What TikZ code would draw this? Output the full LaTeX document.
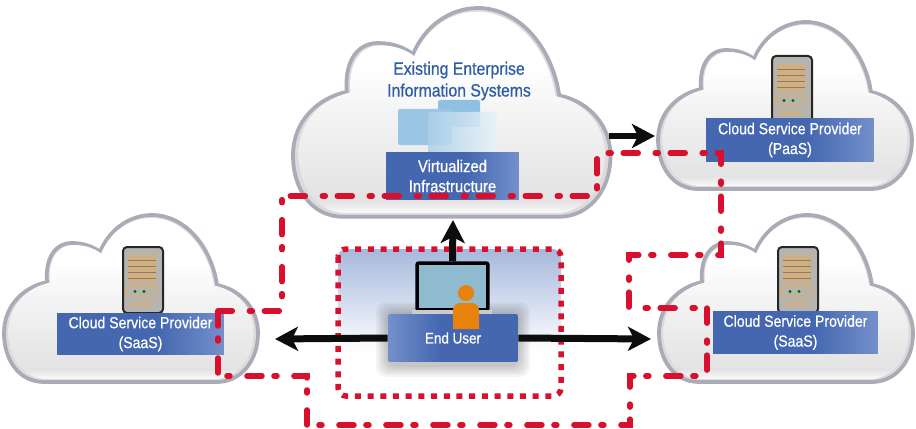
\documentclass[tikz,border=0pt]{standalone}
\usepackage{fontspec}
\setmainfont{Liberation Sans}[FakeStretch=0.88,FakeBold=0.6]
\usepackage{tikz}
\usetikzlibrary{arrows.meta}

\definecolor{rimgray}{HTML}{A9ABB6}
\definecolor{boxblue}{HTML}{4467B0}
\definecolor{boxlight}{HTML}{7490CB}
\definecolor{titleblue}{HTML}{2F5CA3}
\definecolor{linkred}{HTML}{D8102E}
\definecolor{servertan}{HTML}{CFB084}
\definecolor{servergray}{HTML}{B6B4AF}
\definecolor{windowblue}{HTML}{8FC0E0}
\definecolor{screenblue}{HTML}{8FBAD0}
\definecolor{personorange}{HTML}{E8820C}
\definecolor{userblue}{HTML}{A6B8DC}

\pgfdeclareverticalshading{cloudglow}{100bp}{color(0bp)=(white!98!black); color(25bp)=(white!98!black); color(28bp)=(white!89!black); color(48bp)=(white!95!black); color(62bp)=(white); color(100bp)=(white)}
\pgfdeclareverticalshading{userglow}{100bp}{color(0bp)=(white); color(40bp)=(white); color(75bp)=(userblue); color(100bp)=(userblue)}
\pgfdeclarehorizontalshading{boxshade}{100bp}{color(0bp)=(boxblue); color(55bp)=(boxblue); color(75bp)=(boxlight); color(100bp)=(boxlight)}
\pgfdeclarehorizontalshading{usershade}{100bp}{color(0bp)=(boxlight); color(25bp)=(boxlight); color(45bp)=(boxblue); color(100bp)=(boxblue)}

\newcommand{\cloudpath}{(40,167) .. controls (15,167) and (0,145) .. (0,118) .. controls (0,90) and (20,72) .. (43,67) .. controls (41,45) and (50,28) .. (68,28) .. controls (80,28) and (90,32) .. (96,37) .. controls (105,15) and (125,0) .. (148,0) .. controls (180,0) and (207,30) .. (213,70) .. controls (238,75) and (254,95) .. (254,118) .. controls (254,148) and (235,167) .. (213,167) -- cycle}

\tikzset{
  pics/cloudshape/.style={code={
    \draw[rimgray,line width=0.075cm,fill=white!86!black] \cloudpath;
    \shade[shading=cloudglow,scale around={0.965:(127,84)}] \cloudpath;
  }},
  pics/servershape/.style={code={
    \draw[black!85,line width=0.04cm,fill=servergray,rounded corners=0.08cm] (0,0) rectangle (40,66);
    \fill[servertan] (5,8) rectangle (33,36);
    \foreach \s in {13,19,25,31} \fill[servertan!70!black] (5,\s) rectangle (33,\s+0.7);
    \draw[servertan,line width=0.04cm,fill=servergray] (4,40) rectangle (33,49);
    \fill[black!60!green] (12,44.5) circle (1.6);
    \fill[black!60!green] (21,44.5) circle (1.6);
    \fill[servertan] (8,55) rectangle (29,59);
  }},
  bluebox/.style={shade,shading=boxshade,text=white,inner sep=0pt,align=center,font=\fontsize{9.1}{11.3}\selectfont},
  fatarrow/.style={black!95,line width=0.14cm,-{Stealth[length=0.46cm,width=0.48cm,inset=0.12cm]}},
  linkline/.style={linkred,line width=0.11cm,line cap=round,dash pattern=on 0.3cm off 0.24cm on 0.06cm off 0.34cm},
  windowbox/.style={rounded corners=0.04cm},
}

\begin{document}
\begin{tikzpicture}[x=0.02cm,y=-0.02cm]
\useasboundingbox (0,0) rectangle (916,429);

\pic[shift={(4,215)}] (cloudleft) {cloudshape};
\pic[shift={(293,8)},scale=1.25] (cloudtop) {cloudshape};
\pic[shift={(658,22)}] (cloudpaas) {cloudshape};
\pic[shift={(659,215)}] (cloudright) {cloudshape};

\pic[shift={(123,247)}] (serverleft) {servershape};
\pic[shift={(772,56)}] (serverpaas) {servershape};
\pic[shift={(778,247)}] (serverright) {servershape};

\node[bluebox,minimum width=3.34cm,minimum height=0.84cm] (saasleft) at (140.5,334) {Cloud Service Provider\\(SaaS)};
\node[bluebox,minimum width=3.36cm,minimum height=0.88cm] (paas) at (790,140) {Cloud Service Provider\\(PaaS)};
\node[bluebox,minimum width=3.30cm,minimum height=0.86cm] (saasright) at (795.5,332.5) {Cloud Service Provider\\(SaaS)};

\node[text=titleblue,align=center,font=\fontsize{10.2}{12.4}\selectfont] (title) at (459,81) {Existing Enterprise\\Information Systems};

\fill[windowblue,windowbox] (438,100) rectangle (480,127);
\fill[windowblue!90!white,windowbox] (398,109) rectangle (452,145);
\shade[left color=windowblue!75!white,right color=windowblue!20!white,opacity=0.85,windowbox] (428,112) rectangle (497,156);
\node[bluebox,font=\fontsize{9.6}{11.4}\selectfont,minimum width=2.66cm,minimum height=0.96cm] (virtual) at (452.5,176) {Virtualized\\Infrastructure};

\shade[shading=userglow,rounded corners=0.16cm] (338,249) rectangle (561,396);
\foreach \s in {2,4,6,8,10,12} \fill[black,opacity=0.04,rounded corners=0.2cm] (388-\s,314-\s) rectangle (518+\s,365+\s);

\node[inner sep=0pt,minimum width=1.42cm,minimum height=0.94cm,draw=black,line width=0.07cm,fill=screenblue,rounded corners=0.04cm] (laptop) at (452.5,286.5) {};
\fill[black!20] (412,310) rectangle (492,317);
\node[shade,shading=usershade,text=white,inner sep=0pt,rounded corners=0.03cm,minimum width=2.6cm,minimum height=0.96cm,font=\fontsize{8.7}{11}\selectfont] (user) at (453,338) {\raisebox{-2pt}{End User}};
\fill[personorange] (466,293) circle (8);
\fill[personorange] (453,329) [rounded corners=0.14cm] -- (453,303) -- (479,303) [sharp corners] -- (479,329) -- cycle;

\draw[linkred,line width=0.11cm,dash pattern=on 0.12cm off 0.134cm,rounded corners=0.16cm] (338,249) rectangle (561,396);

\coordinate (userleft) at (275,339);
\coordinate (userright) at (651,339);
\coordinate (usertop) at (453,220);
\coordinate (topout) at (609,136);
\coordinate (paasin) at (655,136);

\draw[fatarrow] (user.west) -- (userleft);
\draw[fatarrow] (user.east) -- (userright);
\draw[fatarrow] (laptop.north) -- (usertop);
\draw[fatarrow] (topout) -- (paasin);

\draw[linkline] (218,311)--(218,376)--(307,376)--(307,425)--(630,425)--(630,376)--(707,376)--(707,308)--(629,308)--(629,255)--(721,255)--(721,153)--(597,153)--(597,196)--(282,196)--(282,311)--cycle;
\end{tikzpicture}
\end{document}
